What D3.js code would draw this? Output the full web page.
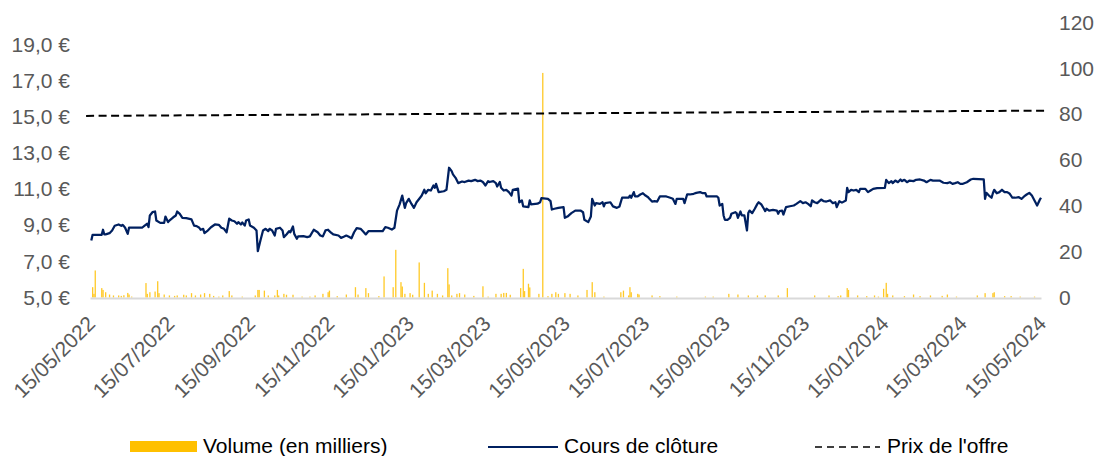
<!DOCTYPE html>
<html>
<head>
<meta charset="utf-8">
<script src="https://cdn.jsdelivr.net/npm/d3@7"></script>
<style>
  body { margin: 0; background: #fff; }
  svg { display: block; font-family: "Liberation Sans", Arial, sans-serif; }
</style>
</head>
<body>
<div id="chart"></div>
<script>
const WIDTH = 1097;
const HEIGHT = 456;
const TEXT_COLOR = "#595959";
const FONT_SIZE = "21px";

// price axis (left) and volume axis (right)
const priceTicks = [5, 7, 9, 11, 13, 15, 17, 19];
const volumeTicks = [0, 20, 40, 60, 80, 100, 120];
const xTickDates = [
  "2022-05-15", "2022-07-15", "2022-09-15", "2022-11-15", "2023-01-15",
  "2023-03-15", "2023-05-15", "2023-07-15", "2023-09-15", "2023-11-15",
  "2024-01-15", "2024-03-15", "2024-05-15",
];

// closing price
const closeDates = [
  "2022-05-16","2022-05-17","2022-05-24","2022-05-25","2022-05-26","2022-05-27","2022-05-30","2022-06-01","2022-06-03","2022-06-06",
  "2022-06-08","2022-06-09","2022-06-10","2022-06-11","2022-06-13","2022-06-14","2022-06-16","2022-06-24","2022-06-26","2022-06-28",
  "2022-06-29","2022-06-30","2022-07-02","2022-07-04","2022-07-05","2022-07-08","2022-07-11","2022-07-12","2022-07-14","2022-07-15",
  "2022-07-18","2022-07-20","2022-07-21","2022-07-23","2022-07-25","2022-07-28","2022-08-01","2022-08-03","2022-08-05","2022-08-07",
  "2022-08-08","2022-08-10","2022-08-11","2022-08-13","2022-08-16","2022-08-19","2022-08-22","2022-08-24","2022-08-26","2022-08-28",
  "2022-08-30","2022-09-01","2022-09-03","2022-09-05","2022-09-06","2022-09-08","2022-09-09","2022-09-11","2022-09-12","2022-09-14",
  "2022-09-15","2022-09-18","2022-09-20","2022-09-21","2022-09-23","2022-09-25","2022-09-27","2022-09-29","2022-09-30","2022-10-02",
  "2022-10-04","2022-10-05","2022-10-08","2022-10-10","2022-10-11","2022-10-13","2022-10-15","2022-10-16","2022-10-18","2022-10-19",
  "2022-10-21","2022-10-22","2022-10-26","2022-10-29","2022-10-31","2022-11-03","2022-11-06","2022-11-08","2022-11-10","2022-11-12",
  "2022-11-14","2022-11-15","2022-11-16","2022-11-18","2022-11-22","2022-11-24","2022-11-26","2022-11-28","2022-11-30","2022-12-02",
  "2022-12-04","2022-12-06","2022-12-09","2022-12-11","2022-12-13","2022-12-15","2022-12-26","2022-12-28","2022-12-30","2023-01-02",
  "2023-01-04","2023-01-06","2023-01-08","2023-01-10","2023-01-12","2023-01-13","2023-01-15","2023-01-17","2023-01-19","2023-01-21",
  "2023-01-24","2023-01-25","2023-01-27","2023-01-28","2023-01-30","2023-02-01","2023-02-03","2023-02-04","2023-02-05","2023-02-07",
  "2023-02-11","2023-02-13","2023-02-15","2023-02-17","2023-02-18","2023-02-20","2023-02-22","2023-02-25","2023-02-27","2023-03-02",
  "2023-03-04","2023-03-07","2023-03-09","2023-03-11","2023-03-13","2023-03-15","2023-03-17","2023-03-18","2023-03-21","2023-03-23",
  "2023-03-24","2023-03-26","2023-03-27","2023-03-29","2023-03-31","2023-04-02","2023-04-04","2023-04-05","2023-04-09","2023-04-10",
  "2023-04-12","2023-04-13","2023-04-17","2023-04-18","2023-04-19","2023-04-24","2023-04-26","2023-04-27","2023-05-02","2023-05-04",
  "2023-05-05","2023-05-07","2023-05-10","2023-05-14","2023-05-15","2023-05-17","2023-05-20","2023-05-23","2023-05-27","2023-05-29",
  "2023-05-30","2023-06-02","2023-06-04","2023-06-05","2023-06-07","2023-06-08","2023-06-11","2023-06-13","2023-06-14","2023-06-15",
  "2023-06-19","2023-06-21","2023-06-24","2023-06-26","2023-06-28","2023-07-03","2023-07-04","2023-07-05","2023-07-07","2023-07-08",
  "2023-07-10","2023-07-12","2023-07-14","2023-07-16","2023-07-18","2023-07-19","2023-07-21","2023-07-23","2023-07-25","2023-07-27",
  "2023-08-01","2023-08-04","2023-08-06","2023-08-08","2023-08-09","2023-08-14","2023-08-15","2023-08-17","2023-08-19","2023-08-22",
  "2023-08-24","2023-08-27","2023-08-29","2023-08-31","2023-09-01","2023-09-09","2023-09-10","2023-09-11","2023-09-13","2023-09-14",
  "2023-09-15","2023-09-17","2023-09-19","2023-09-20","2023-09-23","2023-09-24","2023-09-25","2023-09-27","2023-09-28","2023-09-30",
  "2023-10-02","2023-10-03","2023-10-04","2023-10-06","2023-10-08","2023-10-10","2023-10-11","2023-10-13","2023-10-15","2023-10-16",
  "2023-10-17","2023-10-19","2023-10-22","2023-10-25","2023-10-26","2023-10-27","2023-10-29","2023-10-30","2023-11-01","2023-11-04",
  "2023-11-07","2023-11-09","2023-11-12","2023-11-14","2023-11-16","2023-11-18","2023-11-20","2023-11-21","2023-11-23","2023-11-25",
  "2023-11-28","2023-11-30","2023-12-02","2023-12-05","2023-12-07","2023-12-09","2023-12-10","2023-12-12","2023-12-14","2023-12-17",
  "2023-12-18","2023-12-19","2023-12-21","2023-12-23","2023-12-25","2023-12-27","2023-12-28","2024-01-01","2024-01-03","2024-01-05",
  "2024-01-07","2024-01-10","2024-01-16","2024-01-17","2024-01-19","2024-01-21","2024-01-22","2024-01-24","2024-01-26","2024-01-28",
  "2024-01-29","2024-01-31","2024-02-02","2024-02-04","2024-02-07","2024-02-09","2024-02-12","2024-02-15","2024-02-17","2024-02-20",
  "2024-02-22","2024-02-27","2024-03-01","2024-03-04","2024-03-06","2024-03-08","2024-03-10","2024-03-12","2024-03-14","2024-03-16",
  "2024-03-19","2024-03-22","2024-03-24","2024-04-01","2024-04-02","2024-04-03","2024-04-05","2024-04-07","2024-04-08","2024-04-09",
  "2024-04-11","2024-04-13","2024-04-15","2024-04-17","2024-04-19","2024-04-21","2024-04-23","2024-04-25","2024-04-28","2024-04-30",
  "2024-05-02","2024-05-04","2024-05-06","2024-05-08","2024-05-10","2024-05-12","2024-05-14","2024-05-15",
];
const closeValues = [
  8.15, 8.47, 8.47, 8.75, 8.49, 8.49, 8.56, 8.71, 8.97, 9.04,
  8.97, 9.02, 8.95, 8.86, 8.52, 8.86, 8.86, 8.86, 8.98, 9.08,
  8.89, 9.54, 9.72, 9.76, 9.26, 9.13, 9.13, 9.48, 9.17, 9.26,
  9.44, 9.54, 9.76, 9.63, 9.41, 9.39, 9.32, 8.98, 8.95, 8.86,
  8.75, 8.80, 8.56, 8.67, 8.89, 9.04, 9.02, 8.86, 8.80, 8.61,
  9.36, 9.26, 9.22, 9.08, 9.17, 9.04, 9.15, 8.98, 9.26, 9.32,
  8.98, 8.86, 8.71, 7.56, 8.15, 8.71, 8.80, 8.67, 8.80, 8.71,
  8.43, 8.80, 8.86, 8.71, 8.34, 8.49, 8.67, 8.61, 8.93, 8.52,
  8.25, 8.38, 8.40, 8.34, 8.38, 8.75, 8.61, 8.43, 8.38, 8.71,
  8.75, 8.67, 8.61, 8.49, 8.43, 8.30, 8.36, 8.43, 8.36, 8.28,
  8.61, 8.84, 8.80, 8.65, 8.49, 8.67, 8.67, 8.89, 8.86, 8.76,
  8.86, 9.81, 10.15, 10.64, 9.96, 10.22, 10.46, 10.19, 9.96, 10.27,
  10.55, 10.64, 10.96, 10.77, 10.96, 10.92, 11.20, 11.07, 11.29, 10.83,
  10.88, 10.96, 12.18, 11.99, 11.81, 11.62, 11.33, 11.42, 11.39, 11.47,
  11.44, 11.51, 11.44, 11.47, 11.39, 11.20, 11.44, 11.39, 11.44, 11.33,
  11.14, 11.39, 11.07, 10.92, 10.96, 10.83, 10.64, 10.96, 11.02, 10.27,
  10.37, 10.04, 10.00, 10.37, 10.15, 10.19, 10.27, 10.50, 10.46, 10.33,
  9.87, 9.91, 9.96, 10.00, 9.41, 9.48, 9.67, 9.81, 9.81, 9.72,
  9.30, 9.17, 9.48, 10.46, 10.09, 10.22, 10.18, 10.27, 10.04, 10.22,
  10.27, 10.04, 9.96, 10.04, 10.52, 10.52, 10.64, 10.52, 10.83, 10.59,
  10.59, 10.70, 10.77, 10.64, 10.55, 10.46, 10.31, 10.33, 10.31, 10.59,
  10.59, 10.52, 10.46, 10.18, 10.46, 10.46, 10.22, 10.70, 10.70, 10.74,
  10.79, 10.83, 10.77, 10.77, 10.59, 10.59, 10.52, 10.09, 10.18, 9.54,
  9.30, 9.30, 9.41, 9.63, 9.72, 9.67, 9.41, 9.76, 9.54, 9.54,
  8.71, 9.67, 9.81, 9.67, 9.91, 10.18, 10.27, 10.15, 9.91, 9.78,
  9.91, 9.81, 9.85, 9.81, 9.63, 9.78, 9.81, 9.59, 10.00, 10.05,
  10.09, 10.18, 10.33, 10.22, 10.27, 10.18, 10.05, 10.37, 10.27, 10.22,
  10.42, 10.33, 10.31, 10.37, 10.22, 10.27, 10.00, 10.33, 10.25, 10.37,
  11.07, 10.83, 10.96, 10.92, 10.96, 10.83, 11.01, 11.01, 10.83, 10.92,
  11.01, 11.05, 11.07, 11.51, 11.33, 11.44, 11.33, 11.47, 11.38, 11.53,
  11.44, 11.51, 11.38, 11.47, 11.44, 11.51, 11.53, 11.47, 11.38, 11.51,
  11.47, 11.47, 11.35, 11.33, 11.38, 11.29, 11.33, 11.38, 11.29, 11.29,
  11.38, 11.53, 11.57, 11.53, 10.46, 10.79, 10.64, 10.52, 10.77, 10.96,
  10.77, 10.83, 10.96, 10.83, 10.83, 10.74, 10.52, 10.52, 10.55, 10.46,
  10.59, 10.70, 10.79, 10.64, 10.37, 10.09, 10.40, 10.52,
];

// daily volume in thousands (notable bars)
const volumeDates = [
  "2022-05-17","2022-05-18","2022-05-19","2022-05-24","2022-05-25","2022-05-27","2022-05-30","2022-06-02","2022-06-06","2022-06-08",
  "2022-06-10","2022-06-13","2022-06-14","2022-06-16","2022-06-27","2022-06-28","2022-06-30","2022-07-04","2022-07-06","2022-07-07",
  "2022-07-11","2022-07-15","2022-07-19","2022-07-21","2022-07-26","2022-07-28","2022-08-01","2022-08-04","2022-08-08","2022-08-11",
  "2022-08-15","2022-08-18","2022-08-22","2022-08-25","2022-08-30","2022-09-01","2022-09-09","2022-09-19","2022-09-21","2022-09-22",
  "2022-09-26","2022-09-29","2022-10-04","2022-10-06","2022-10-07","2022-10-11","2022-10-13","2022-10-18","2022-10-25","2022-10-31",
  "2022-11-04","2022-11-10","2022-11-14","2022-11-15","2022-11-21","2022-11-28","2022-12-05","2022-12-07","2022-12-13","2022-12-15",
  "2022-12-23","2022-12-27","2023-01-03","2023-01-05","2023-01-09","2023-01-10","2023-01-12","2023-01-16","2023-01-18","2023-01-23",
  "2023-01-27","2023-01-30","2023-02-02","2023-02-06","2023-02-10","2023-02-14","2023-02-15","2023-02-17","2023-02-21","2023-02-23",
  "2023-02-27","2023-03-06","2023-03-13","2023-03-17","2023-03-23","2023-03-27","2023-03-29","2023-03-31","2023-04-03","2023-04-11",
  "2023-04-13","2023-04-14","2023-04-17","2023-04-18","2023-04-25","2023-04-28","2023-05-02","2023-05-05","2023-05-08","2023-05-10",
  "2023-05-15","2023-05-19","2023-05-25","2023-06-01","2023-06-05","2023-06-07","2023-06-14","2023-06-27","2023-06-29","2023-07-03",
  "2023-07-04","2023-07-05","2023-07-10","2023-07-11","2023-07-21","2023-07-27","2023-08-09","2023-08-31","2023-09-06","2023-09-18",
  "2023-09-25","2023-10-03","2023-10-10","2023-10-16","2023-10-26","2023-11-02","2023-11-23","2023-12-04","2023-12-11","2023-12-13",
  "2023-12-18","2023-12-19","2023-12-26","2024-01-02","2024-01-08","2024-01-11","2024-01-15","2024-01-17","2024-01-18","2024-01-22",
  "2024-01-31","2024-02-07","2024-02-12","2024-02-20","2024-02-29","2024-03-04","2024-03-11","2024-03-27","2024-04-02","2024-04-08",
  "2024-04-09","2024-04-17","2024-04-22","2024-04-29","2024-05-10",
];
const volumeValues = [
  4.5, 1.6, 11.8, 4.1, 3.3, 2.3, 1.3, 0.9, 0.9, 0.7,
  1.0, 2.0, 1.3, 0.4, 6.3, 1.6, 2.3, 2.6, 7.1, 1.9,
  1.3, 0.9, 0.7, 0.9, 1.2, 0.9, 1.9, 0.9, 1.3, 1.9,
  1.6, 0.7, 0.4, 0.9, 2.8, 0.9, 0.4, 0.9, 3.3, 3.3,
  3.0, 0.9, 0.9, 3.3, 0.9, 1.6, 1.2, 1.2, 0.4, 0.4,
  0.9, 1.6, 2.3, 3.0, 0.6, 1.3, 4.5, 1.3, 4.1, 1.9,
  0.6, 9.2, 4.5, 20.8, 6.7, 4.8, 1.6, 1.9, 1.2, 15.3,
  6.4, 1.6, 3.0, 1.6, 0.9, 12.8, 5.7, 0.9, 1.6, 1.9,
  1.3, 0.7, 4.9, 0.4, 1.6, 1.6, 2.0, 2.0, 1.2, 4.1,
  12.5, 2.8, 6.0, 4.4, 1.6, 98, 0.6, 1.6, 2.3, 1.6,
  1.9, 1.6, 0.9, 3.3, 6.7, 2.3, 0.4, 2.3, 3.0, 0.9,
  4.5, 2.3, 1.6, 1.3, 0.9, 0.6, 0.4, 0.4, 0.4, 1.6,
  1.3, 0.9, 0.9, 0.9, 0.9, 4.1, 0.9, 0.9, 0.6, 0.9,
  4.1, 3.3, 0.9, 0.6, 0.9, 0.4, 3.8, 6.4, 1.6, 0.9,
  0.6, 1.3, 0.6, 0.9, 0.7, 1.3, 0.4, 0.9, 1.9, 1.9,
  2.3, 0.6, 0.6, 0.4, 0.4,
];

// offer price (drawn dashed)
const offerDates = ["2022-05-12", "2024-05-18"];
const offerValues = [15.05, 15.34];

const parseDate = d3.timeParse("%Y-%m-%d");
const formatTick = d3.timeFormat("%d/%m/%Y");
const formatPrice = (v) => d3.format(".1f")(v).replace(".", ",") + " €";

const svg = d3
  .select("#chart")
  .append("svg")
  .attr("width", WIDTH)
  .attr("height", HEIGHT);

const xScale = d3
  .scaleTime()
  .domain([parseDate("2022-05-15"), parseDate("2024-05-15")])
  .range([90, 1041]);

const yPrice = d3.scaleLinear().domain([5, 19]).range([297.5, 44.5]);
const yVolume = d3.scaleLinear().domain([0, 120]).range([297.5, 22.5]);

// volume bars
svg
  .append("g")
  .selectAll("rect")
  .data(volumeDates.map((d, i) => ({ date: parseDate(d), value: volumeValues[i] })))
  .join("rect")
  .attr("x", (d) => xScale(d.date) - 0.6)
  .attr("width", 1.3)
  .attr("y", (d) => yVolume(d.value))
  .attr("height", (d) => yVolume(0) - yVolume(d.value))
  .attr("fill", "#FFC000")
  .attr("fill-opacity", 0.85);

// x axis: grey baseline + rotated date labels
const xAxis = svg
  .append("g")
  .attr("transform", "translate(0, 298)")
  .call(
    d3.axisBottom(xScale)
      .tickValues(xTickDates.map(parseDate))
      .tickSize(0)
      .tickFormat(formatTick)
  );
xAxis.select(".domain").attr("stroke", "#d9d9d9").attr("stroke-width", 2);
xAxis
  .selectAll("text")
  .attr("fill", TEXT_COLOR)
  .attr("font-size", FONT_SIZE)
  .attr("font-family", "Liberation Sans, Arial, sans-serif")
  .attr("text-anchor", "end")
  .attr("dy", null)
  .attr("y", 0)
  .attr("transform", "translate(6, 27) rotate(-45)");

// left axis (price)
const leftAxis = svg
  .append("g")
  .attr("transform", "translate(70, 0)")
  .call(d3.axisLeft(yPrice).tickValues(priceTicks).tickSize(0).tickPadding(0).tickFormat(formatPrice));
leftAxis.select(".domain").remove();
leftAxis
  .selectAll("text")
  .attr("fill", TEXT_COLOR)
  .attr("font-size", FONT_SIZE)
  .attr("font-family", "Liberation Sans, Arial, sans-serif");

// right axis (volume)
const rightAxis = svg
  .append("g")
  .attr("transform", "translate(1059, 0)")
  .call(d3.axisRight(yVolume).tickValues(volumeTicks).tickSize(0).tickPadding(0));
rightAxis.select(".domain").remove();
rightAxis
  .selectAll("text")
  .attr("fill", TEXT_COLOR)
  .attr("font-size", FONT_SIZE)
  .attr("font-family", "Liberation Sans, Arial, sans-serif");

// closing price line
const closeData = closeDates.map((d, i) => ({ date: parseDate(d), value: closeValues[i] }));
const priceLine = d3
  .line()
  .x((d) => xScale(d.date))
  .y((d) => yPrice(d.value));

svg
  .append("path")
  .datum(closeData)
  .attr("d", priceLine)
  .attr("fill", "none")
  .attr("stroke", "#002060")
  .attr("stroke-width", 2.25)
  .attr("stroke-linejoin", "round");

// offer price
svg
  .append("path")
  .datum(offerDates.map((d, i) => ({ date: parseDate(d), value: offerValues[i] })))
  .attr("d", priceLine)
  .attr("fill", "none")
  .attr("stroke", "#000")
  .attr("stroke-width", 2)
  .attr("stroke-dasharray", "8,4.5");

// legend
const legend = svg
  .append("g")
  .attr("font-size", FONT_SIZE)
  .attr("fill", "#000");

legend.append("rect")
  .attr("x", 130).attr("y", 441).attr("width", 67).attr("height", 11)
  .attr("fill", "#FFC000");
legend.append("text")
  .attr("x", 203).attr("y", 446).attr("dy", "0.35em")
  .text("Volume (en milliers)");

legend.append("line")
  .attr("x1", 488).attr("x2", 558).attr("y1", 447).attr("y2", 447)
  .attr("stroke", "#002060").attr("stroke-width", 2);
legend.append("text")
  .attr("x", 564).attr("y", 446).attr("dy", "0.35em")
  .text("Cours de clôture");

legend.append("line")
  .attr("x1", 815).attr("x2", 880).attr("y1", 447).attr("y2", 447)
  .attr("stroke", "#000").attr("stroke-width", 1.5)
  .attr("stroke-dasharray", "7,5");
legend.append("text")
  .attr("x", 887).attr("y", 446).attr("dy", "0.35em")
  .text("Prix de l'offre");
</script>
</body>
</html>
